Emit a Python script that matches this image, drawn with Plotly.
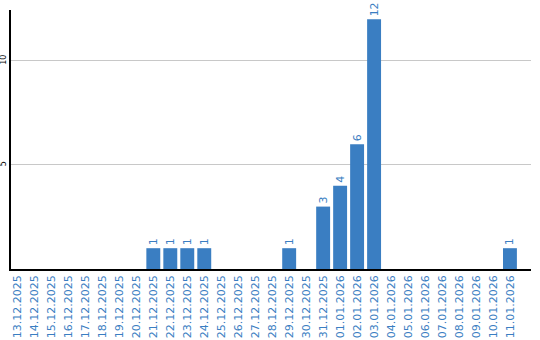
import plotly.graph_objects as go

dates = ["13.12.2025","14.12.2025","15.12.2025","16.12.2025","17.12.2025","18.12.2025",
         "19.12.2025","20.12.2025","21.12.2025","22.12.2025","23.12.2025","24.12.2025",
         "25.12.2025","26.12.2025","27.12.2025","28.12.2025","29.12.2025","30.12.2025",
         "31.12.2025","01.01.2026","02.01.2026","03.01.2026","04.01.2026","05.01.2026",
         "06.01.2026","07.01.2026","08.01.2026","09.01.2026","10.01.2026","11.01.2026"]
values = [0,0,0,0,0,0,0,0,1,1,1,1,0,0,0,0,1,0,3,4,6,12,0,0,0,0,0,0,0,1]
y_ticks = [5, 10]

blue = "#3a7ec2"
xs = list(range(len(dates)))
texts = [str(v) if v else "" for v in values]

fig = go.Figure(go.Bar(
    x=xs, y=values, width=0.82, marker_color=blue, marker_line_width=0,
    text=texts, textposition="outside", textangle=-90, cliponaxis=False,
    textfont=dict(family="DejaVu Sans", size=11, color=blue),
))
fig.update_layout(
    width=540, height=340, margin=dict(l=11, r=9, t=10, b=71, autoexpand=False),
    plot_bgcolor="white", paper_bgcolor="white", showlegend=False,
    font=dict(family="DejaVu Sans"),
)
fig.update_xaxes(
    range=[-0.38, 30.24], tickmode="array", tickvals=xs, ticktext=dates,
    tickangle=-90, tickfont=dict(size=11, color=blue), showline=True,
    linecolor="black", linewidth=1.5, showgrid=False, ticks="", zeroline=False,
    automargin=False,
)
fig.update_yaxes(
    range=[0, 12.45], tickmode="array", tickvals=y_ticks, tickangle=-90,
    tickfont=dict(size=8, color="black"), showline=True, linecolor="black",
    linewidth=1.5, gridcolor="#c8c8c8", gridwidth=1, ticks="", zeroline=False,
    automargin=False,
)
fig.write_html("out.html")
